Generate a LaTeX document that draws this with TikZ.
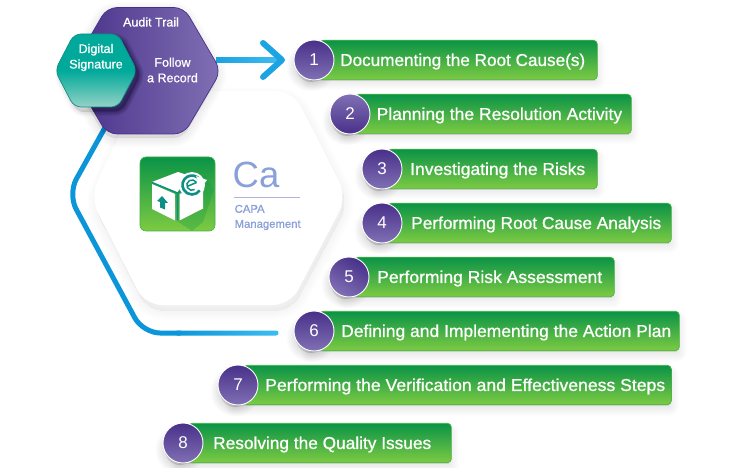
\documentclass[tikz,border=0pt]{standalone}
\usepackage{fontspec}
\usepackage{graphicx}
\setmainfont{Liberation Sans}
\newfontfamily\labelfont[FakeBold=0.8]{Liberation Sans}
\newfontfamily\plainfont{Liberation Sans}
\usetikzlibrary{calc}
\definecolor{gtop}{HTML}{0A9347}
\definecolor{gbot}{HTML}{7DCB42}
\definecolor{pdark}{HTML}{483089}
\definecolor{plight}{HTML}{8070B4}
\definecolor{bluea}{HTML}{0B96DA}
\definecolor{blueb}{HTML}{3DBDF0}
\definecolor{capa}{HTML}{8AA0DA}
\definecolor{tealA}{HTML}{00A99A}
\definecolor{tealB}{HTML}{93D2C6}
\definecolor{tealC}{HTML}{0E8F86}
\tikzset{
  x=1pt,y=-1pt,
  barbox/.style={anchor=west,inner sep=0pt,minimum height=39.5pt,rounded corners=4pt,
    top color=gtop,bottom color=gbot,draw=gtop!45!gbot,line width=.7pt},
  numdisc/.style={circle,inner sep=0pt,minimum size=40pt,draw=white,line width=.9pt,
    text=white,font=\plainfont\fontsize{17}{17}\selectfont},
  barlabel/.style={anchor=west,inner sep=0pt,text=white,font=\labelfont\fontsize{17.15}{17}\selectfont},
  hexlabel/.style={text=white,align=center,inner sep=0pt,font=\labelfont\fontsize{12.5}{15.5}\selectfont},
  capalabel/.style={text=capa,align=left,inner sep=0pt,anchor=west,font=\labelfont\fontsize{11.3}{15}\selectfont},
  soft/.style={line join=round},
  bluepipe/.style={draw=bluea,line width=5pt,line cap=round,line join=round},
}
\newcommand{\softshadow}[4]{% dx dy opacity path
  \foreach \w in {1,3,5,7,9,11,13,15,17,19}{
    \path[soft,fill=black,draw=black,fill opacity=#3,draw opacity=#3,line width=\w pt,xshift=#1pt,yshift=-#2pt] #4;
  }}
\newcommand{\stepitem}[9]{% id, cx, cy, right, textx, angle, number, label, label width
  \path (#2,#3) coordinate (p#1);
  \softshadow{1}{5}{.006}{(#2-5,#3-16) rectangle (#4-3,#3+16)}
  \softshadow{-3}{7}{.012}{(#2,#3) circle (15)}
  \node[barbox,minimum width=#4-#2-5] (b#1) at (#2+5,#3) {};
  \node[numdisc,shading=axis,left color=pdark,right color=plight,shading angle=#6] (c#1) at (p#1) {#7};
  \node[barlabel] (t#1) at (#5,#3+1.5) {\resizebox{#9pt}{\height}{#8}};
}
\begin{document}
\begin{tikzpicture}
\useasboundingbox (0,0) rectangle (740,468);
\fill[white] (0,0) rectangle (740,468);
% large white hexagon
\def\bighex{[rounded corners=17pt] (140,91) -- (293,91) -- (347,197) -- (290,305) -- (145,305) -- (90,197) -- cycle}
\softshadow{2}{6}{.004}{\bighex}
\fill[white] \bighex;
% return line
\coordinate (hexexit) at (107,124);
\coordinate (retend) at (276,333);
\draw[bluepipe,rounded corners=17pt] (hexexit) -- (68,194) -- (143,333) -- (180,333);
\shade[left color=bluea,right color=blueb,rounded corners=2.4pt] (175,330.5) rectangle (278.5,335.5);
% purple hexagon
\def\purplehex{[rounded corners=10pt] (107,7.5) -- (184,7.5) -- (221,71) -- (184,134) -- (107,134) -- (70,71) -- cycle}
\softshadow{-1}{4}{.006}{\purplehex}
% arrow
\coordinate (arrowstart) at (216,60);
\coordinate (arrowtip) at (282,60);
\shade[left color=bluea!70!blueb,right color=blueb] (arrowstart)++(0,-2.5) rectangle (278,62.5);
\draw[line width=6pt,line cap=round,line join=round,draw=bluea!65!blueb] (263,43) -- (arrowtip) -- (263,77);
\shade[left color=pdark,right color=plight,rounded corners=10pt,draw=pdark,line width=.7pt] \purplehex;
% teal hexagon
\def\tealhex{[rounded corners=7pt] (74,34) -- (118,34) -- (137,70.5) -- (118,107) -- (74,107) -- (55,70.5) -- cycle}
\begin{scope}
\clip \purplehex;
\foreach \w in {1,3,5,7,9}{\path[fill=pdark!70!black,draw=pdark!70!black,fill opacity=.12,draw opacity=.12,line width=\w pt,xshift=4pt,yshift=-4pt,soft] \tealhex;}
\end{scope}
\foreach \w in {1,3,5,7,9}{\path[fill=black,draw=black,fill opacity=.018,draw opacity=.018,line width=\w pt,xshift=3pt,yshift=-5pt,soft] \tealhex;}
\shade[top color=tealA,bottom color=tealB,middle color=tealA,draw=tealC,line width=.7pt] \tealhex;
\node[hexlabel] (audit) at (151,22) {Audit Trail};
\node[hexlabel] (follow) at (172.5,70) {Follow\\a Record};
\node[hexlabel] (digital) at (96,57.5) {Digital\\Signature};
% logo
\node[minimum width=75pt,minimum height=74pt,inner sep=0pt,rounded corners=6pt,
  top color=gtop,bottom color=gbot,draw=gtop!50!gbot,line width=.6pt] (logo) at (177.5,194) {};
\fill[gtop,opacity=.28] (177,221) -- (192,231) -- (203,222) -- (214,190) -- (205,176) -- (152,205) -- cycle;
\fill[white] (152,182) -- (178,172) -- (190,176) -- (177,192.5) -- cycle;
\fill[white] (152,184) -- (175,194) -- (175,220.5) -- (152,209) -- cycle;
\fill[white] (179.5,194) -- (203,186) -- (203,208.5) -- (179.5,220.5) -- cycle;
\draw[tealC,line width=1.5pt] (152,182.5) -- (177.5,193) -- (177.5,220);
\draw[tealC,line width=1.2pt] (177.5,193) -- (186,188);
\fill[tealC] (162,196) -- (168,203) -- (165,203) -- (165,209.5) -- (160,207.5) -- (160,202) -- (157,201) -- cycle;
\fill[white] (192,185) circle (13);
\draw[tealC,line width=2.6pt] (200.2,180.25) arc[start angle=-30,end angle=-325,radius=9.5];
\draw[tealC,line width=1.5pt] (196.5,182.5) arc[start angle=-30,end angle=-300,radius=5.2];
\draw[tealC,line width=1.5pt] (187,186.5) -- (196.5,182.5);
\fill[white] (196,176) -- (207,180) -- (201,188) -- cycle;
% Ca panel
\node[inner sep=0pt,anchor=base west,text=capa,font=\plainfont\fontsize{36.5}{37}\selectfont] (ca) at (232.5,187.2) {Ca};
\coordinate (rulea) at (234,197);
\coordinate (ruleb) at (300,197);
\draw[draw=capa!60!pdark!55!white,line width=.9pt] (rulea) -- (ruleb);
\node[capalabel,align=left] (capat) at (234.5,217.5) {CAPA\\Management};
% steps
\stepitem{1}{314}{60}{597}{340}{0}{1}{Documenting the Root Cause(s)}{245}
\stepitem{2}{350}{114}{631}{376.5}{180}{2}{Planning the Resolution Activity}{245.5}
\stepitem{3}{382}{169}{597}{410}{0}{3}{Investigating the Risks}{175}
\stepitem{4}{382}{223}{671}{411}{0}{4}{Performing Root Cause Analysis}{250}
\stepitem{5}{349}{277}{614}{377}{-30}{5}{Performing Risk Assessment}{225}
\stepitem{6}{314}{331}{679}{341}{0}{6}{Defining and Implementing the Action Plan}{330}
\stepitem{7}{238}{385}{671}{265}{0}{7}{Performing the Verification and Effectiveness Steps}{400}
\stepitem{8}{183}{443}{451}{213}{0}{8}{Resolving the Quality Issues}{218}
\end{tikzpicture}
\end{document}
